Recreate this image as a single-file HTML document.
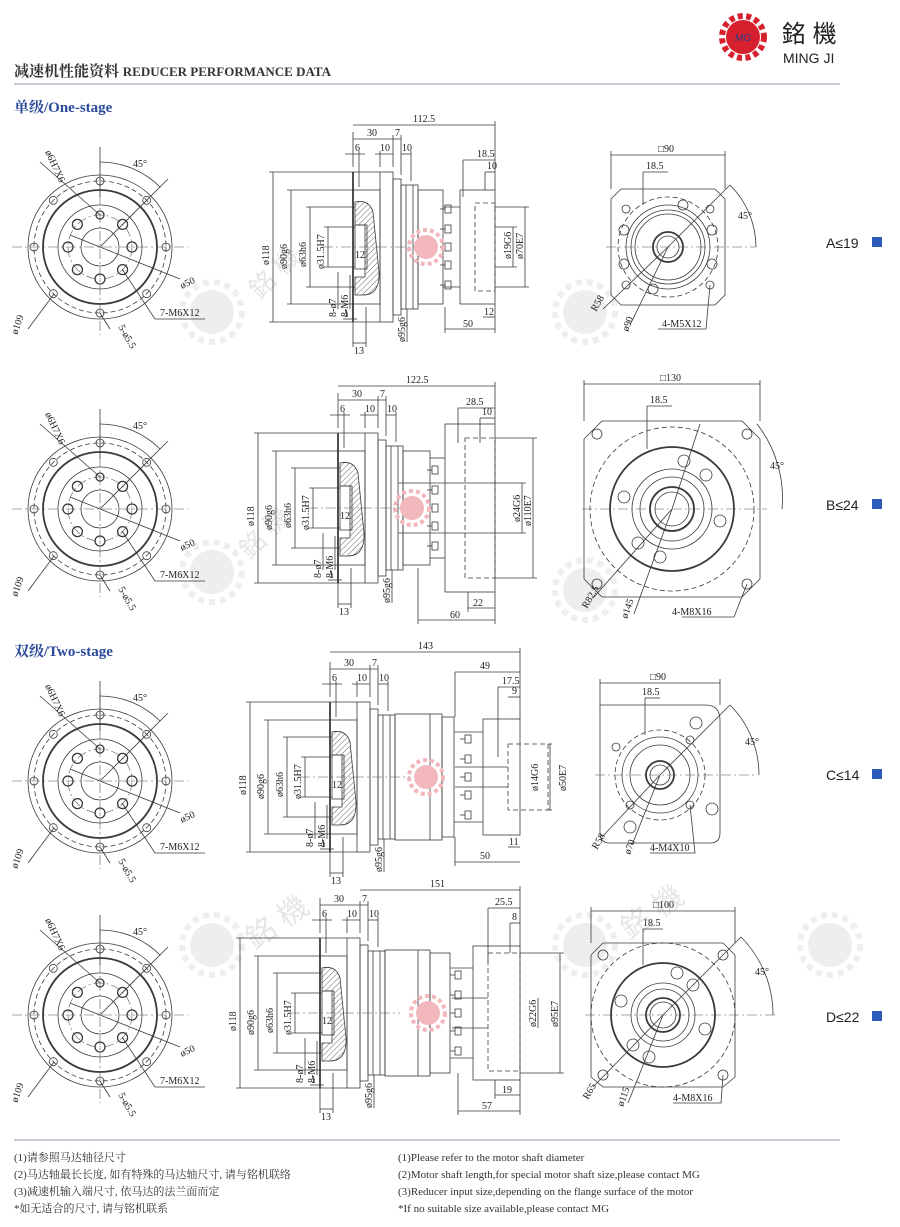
<!DOCTYPE html>
<html><head><meta charset="utf-8"><style>
html,body{margin:0;padding:0;background:#fff;}
svg{display:block;}
.l{fill:none;stroke:#3a3a3a;stroke-width:0.8;}
.t{stroke-width:1.8;}
.d{stroke-dasharray:5 3;}
.c{stroke-dasharray:10 3 2 3;stroke:#555;stroke-width:0.6;}
.tx{font-family:"Liberation Serif",serif;font-size:10px;fill:#222;}
.h{fill:url(#hatch);stroke:#3a3a3a;stroke-width:0.8;}
</style></head><body>
<svg width="900" height="1227" viewBox="0 0 900 1227" xmlns="http://www.w3.org/2000/svg">
<defs>
<pattern id="hatch" width="4" height="4" patternUnits="userSpaceOnUse" patternTransform="rotate(45)"><line x1="0" y1="0" x2="0" y2="4" stroke="#444" stroke-width="0.8"/></pattern>
<g id="front">
 <circle class="l" r="72"/><circle class="l d" r="66"/><circle class="l t" r="57"/><circle class="l" r="42"/><circle class="l c" r="32"/><circle class="l" r="19"/>
 <g class="l"><circle cx="66" cy="0" r="4"/><circle cx="46.7" cy="46.7" r="4"/><circle cx="0" cy="66" r="4"/><circle cx="-46.7" cy="46.7" r="4"/><circle cx="-66" cy="0" r="4"/><circle cx="-46.7" cy="-46.7" r="4"/><circle cx="0" cy="-66" r="4"/><circle cx="46.7" cy="-46.7" r="4"/></g>
 <g class="l t" style="stroke-width:1.3"><circle cx="32" cy="0" r="5"/><circle cx="22.6" cy="22.6" r="5"/><circle cx="0" cy="32" r="5"/><circle cx="-22.6" cy="22.6" r="5"/><circle cx="-32" cy="0" r="5"/><circle cx="-22.6" cy="-22.6" r="5"/><circle cx="0" cy="-32" r="4"/><circle cx="22.6" cy="-22.6" r="5"/></g>
 <line class="l c" x1="-88" y1="0" x2="88" y2="0"/><line class="l c" x1="0" y1="-88" x2="0" y2="88"/>
 <line class="l" x1="0" y1="-50" x2="0" y2="-100"/><path class="l" d="M0,-85 A85,85 0 0 1 60,-60"/><line class="l" x1="0" y1="0" x2="68" y2="-68"/>
 <line class="l" x1="-60" y1="-85" x2="0" y2="-32"/><line class="l" x1="-30" y1="-12" x2="80" y2="32"/>
 <polyline class="l" points="22,22 55,72 105,72"/><line class="l" x1="0" y1="66" x2="10" y2="82"/><line class="l" x1="-46" y1="47" x2="-72" y2="82"/>
</g>
<g id="sideL">
 <line class="l t" x1="0" y1="-75" x2="0" y2="75"/>
 <rect class="l" x="0" y="-57" width="27" height="114"/>
 <rect class="l" x="27" y="-75" width="13" height="150"/>
 <rect class="l" x="40" y="-68" width="8" height="136"/>
 <rect class="l" x="48" y="-62" width="17" height="124"/><line class="l" x1="53" y1="-62" x2="53" y2="62"/><line class="l" x1="60" y1="-62" x2="60" y2="62"/>
 <path class="h" d="M2,-45 Q16,-48 20,-35 L26,25 Q27,48 10,48 L2,48 L2,30 L12,30 L12,-22 L2,-22 Z"/>
 <rect class="l" x="2" y="-22" width="12" height="44"/>
 <line class="l c" x1="-30" y1="0" x2="80" y2="0"/>
 <g class="l">
  <line x1="-80" y1="-75" x2="-80" y2="75"/><line x1="-84" y1="-75" x2="27" y2="-75"/><line x1="-84" y1="75" x2="27" y2="75"/>
  <line x1="-62" y1="-57" x2="-62" y2="57"/><line x1="-66" y1="-57" x2="0" y2="-57"/><line x1="-66" y1="57" x2="0" y2="57"/>
  <line x1="-43" y1="-40" x2="-43" y2="40"/><line x1="-47" y1="-40" x2="2" y2="-40"/><line x1="-47" y1="40" x2="2" y2="40"/>
  <line x1="-25" y1="-20" x2="-25" y2="20"/><line x1="-29" y1="-20" x2="2" y2="-20"/><line x1="-29" y1="20" x2="2" y2="20"/>
  <line x1="-15" y1="25" x2="-15" y2="62"/><line x1="-3" y1="28" x2="-3" y2="62"/>
  <line x1="0" y1="-80" x2="0" y2="-115"/><line x1="40" y1="-80" x2="40" y2="-112"/><line x1="48" y1="-72" x2="48" y2="-112"/><line x1="27" y1="-80" x2="27" y2="-96"/><line x1="58" y1="-66" x2="58" y2="-96"/><line x1="6" y1="-60" x2="6" y2="-96"/>
  <line x1="0" y1="-108" x2="48" y2="-108"/><line x1="-8" y1="-93" x2="12" y2="-93"/><line x1="22" y1="-93" x2="40" y2="-93"/><line x1="48" y1="-93" x2="58" y2="-93"/>
  <line x1="0" y1="75" x2="0" y2="100"/><line x1="13" y1="60" x2="13" y2="100"/><line x1="0" y1="96" x2="13" y2="96"/>
  <line x1="-10" y1="72" x2="4" y2="72"/><line x1="54" y1="62" x2="54" y2="95"/>
 </g>
 <text class="tx" transform="translate(-84,18) rotate(-90)">ø118</text>
 <text class="tx" transform="translate(-66,22) rotate(-90)">ø90g6</text>
 <text class="tx" transform="translate(-47,20) rotate(-90)">ø63h6</text>
 <text class="tx" transform="translate(-29,22) rotate(-90)">ø31.5H7</text>
 <text class="tx" transform="translate(-17,70) rotate(-90)">8-ø7</text>
 <text class="tx" transform="translate(-5,70) rotate(-90)">8-M6</text>
 <text class="tx" transform="translate(52,95) rotate(-90)">ø95g6</text>
 <text class="tx" x="2" y="11">12</text>
 <text class="tx" x="14" y="-111">30</text><text class="tx" x="42" y="-111">7</text>
 <text class="tx" x="2" y="-96">6</text><text class="tx" x="27" y="-96">10</text><text class="tx" x="49" y="-96">10</text>
 <text class="tx" x="-9" y="70">1</text><text class="tx" x="1" y="107">13</text>
</g>
<g id="bolts" class="l">
 <rect x="-3" y="-42" width="6" height="8"/><rect x="-3" y="-22" width="6" height="8"/><rect x="-3" y="-4" width="6" height="8"/><rect x="-3" y="14" width="6" height="8"/><rect x="-3" y="34" width="6" height="8"/>
 <line x1="-8" y1="-38" x2="-3" y2="-38"/><line x1="-8" y1="-18" x2="-3" y2="-18"/><line x1="-8" y1="0" x2="-3" y2="0"/><line x1="-8" y1="18" x2="-3" y2="18"/><line x1="-8" y1="38" x2="-3" y2="38"/>
</g>
<g id="wm"><circle r="22" fill="#eee"/><circle r="30" fill="none" stroke="#eee" stroke-width="6" stroke-dasharray="6 5"/></g>
<g id="pk"><circle r="12" fill="#f3b8bd"/><circle r="17" fill="none" stroke="#f2b6bb" stroke-width="4" stroke-dasharray="4 3"/></g>
</defs>

<!-- header -->
<g transform="translate(743,37)"><circle r="17" fill="#d7202e"/><circle r="21" fill="none" stroke="#d7202e" stroke-width="6" stroke-dasharray="5 3.5"/><text x="-8" y="4" font-family="Liberation Sans,sans-serif" font-size="10" font-style="italic" fill="#2a3d8f">MG</text></g>
<text x="782" y="42" font-family="'Liberation Sans','Noto Sans CJK TC',sans-serif" font-size="24" fill="#222">銘 機</text>
<text x="783" y="63" font-family="Liberation Sans,sans-serif" font-size="14" fill="#222">MING JI</text>
<text x="14" y="76" font-family="'Liberation Serif','Noto Serif CJK SC',serif" font-size="15" font-weight="bold" fill="#333">减速机性能资料 <tspan font-size="13">REDUCER PERFORMANCE DATA</tspan></text>
<line x1="14" y1="84" x2="840" y2="84" stroke="#aab" stroke-width="1.2"/>
<text x="14" y="112" font-family="'Liberation Serif','Noto Serif CJK SC',serif" font-size="15" font-weight="bold" fill="#2a4a9a">单级/One-stage</text>
<text x="14" y="656" font-family="'Liberation Serif','Noto Serif CJK SC',serif" font-size="15" font-weight="bold" fill="#2a4a9a">双级/Two-stage</text>

<!-- watermarks -->
<use href="#wm" x="212" y="312"/><use href="#wm" x="212" y="572"/><use href="#wm" x="585" y="312"/><use href="#wm" x="585" y="590"/><use href="#wm" x="212" y="945"/><use href="#wm" x="585" y="945"/><use href="#wm" x="830" y="945"/>
<g font-family="'Liberation Sans','Noto Sans CJK TC',sans-serif" fill="#e6e6e6">
<text transform="translate(260,300) rotate(-45)" font-size="26">銘 機</text>
<text transform="translate(250,560) rotate(-45)" font-size="26">銘 機</text>
<text transform="translate(255,950) rotate(-35)" font-size="30">銘 機</text>
<text transform="translate(630,940) rotate(-35)" font-size="30">銘 機</text>
</g>

<!-- ROW 1 -->
<g transform="translate(100,247)"><use href="#front"/>
 <text class="tx" x="33" y="-80">45°</text><text class="tx" transform="translate(-55,-95) rotate(65)">ø6H7X6</text>
 <text class="tx" transform="translate(82,42) rotate(-25)">ø50</text><text class="tx" x="60" y="69">7-M6X12</text>
 <text class="tx" transform="translate(-83,88) rotate(-70)">ø109</text><text class="tx" transform="translate(18,80) rotate(60)">5-ø5.5</text></g>
<g transform="translate(353,247)"><use href="#sideL"/>
 <g class="l"><rect x="65" y="-57" width="25" height="114"/><rect x="107" y="-57" width="35" height="114"/><rect class="l d" x="122" y="-44" width="20" height="88"/>
 <line x1="90" y1="-40" x2="107" y2="-40"/><line x1="90" y1="40" x2="107" y2="40"/>
 <line x1="0" y1="-122" x2="142" y2="-122"/><line x1="142" y1="-126" x2="142" y2="-57"/>
 <line x1="110" y1="-87" x2="142" y2="-87"/><line x1="110" y1="-87" x2="110" y2="-50"/><line x1="132" y1="-75" x2="142" y2="-75"/><line x1="132" y1="-75" x2="132" y2="-57"/>
 <line x1="130" y1="70" x2="142" y2="70"/><line x1="92" y1="82" x2="142" y2="82"/><line x1="92" y1="60" x2="92" y2="86"/><line x1="142" y1="57" x2="142" y2="86"/>
 <line x1="160" y1="-20" x2="160" y2="20"/><line x1="172" y1="-40" x2="172" y2="40"/><line x1="142" y1="-40" x2="176" y2="-40"/><line x1="142" y1="40" x2="176" y2="40"/><line x1="142" y1="-20" x2="164" y2="-20"/><line x1="142" y1="20" x2="164" y2="20"/></g>
 <use href="#bolts" x="95" y="0"/><use href="#pk" x="73" y="0"/>
 <text class="tx" x="60" y="-125">112.5</text><text class="tx" x="124" y="-90">18.5</text><text class="tx" x="134" y="-78">10</text><text class="tx" x="131" y="68">12</text><text class="tx" x="110" y="80">50</text>
 <text class="tx" transform="translate(158,12) rotate(-90)">ø19G6</text><text class="tx" transform="translate(170,12) rotate(-90)">ø70E7</text></g>
<g transform="translate(668,247)" class="l">
 <polygon points="-47,-58 47,-58 57,-48 57,48 47,58 -47,58 -57,48 -57,-48"/><circle r="50" class="l d"/><circle r="42"/><circle r="37"/><circle r="33"/><circle r="15" class="t"/><circle r="11"/>
 <circle cx="-42" cy="-38" r="4"/><circle cx="42" cy="-38" r="4"/><circle cx="-42" cy="38" r="4"/><circle cx="42" cy="38" r="4"/>
 <circle cx="-44" cy="-17" r="5"/><circle cx="44" cy="-17" r="5"/><circle cx="-44" cy="17" r="5"/><circle cx="44" cy="17" r="5"/><circle cx="15" cy="-42" r="5"/><circle cx="-15" cy="42" r="5"/>
 <line x1="-62" y1="0" x2="88" y2="0" class="c"/><line x1="-57" y1="-92" x2="57" y2="-92"/><line x1="-57" y1="-96" x2="-57" y2="-58"/><line x1="57" y1="-96" x2="57" y2="-58"/>
 <line x1="-25" y1="-75" x2="0" y2="-75"/><line x1="-25" y1="-75" x2="-25" y2="-42"/><path d="M62,-62 A88,88 0 0 1 88,0"/><line x1="0" y1="0" x2="62" y2="-62"/>
 <line x1="0" y1="0" x2="-65" y2="62"/><line x1="0" y1="0" x2="-38" y2="78"/><polyline points="42,38 38,82 -10,82"/>
</g>
<g transform="translate(668,247)"><text class="tx" x="-10" y="-95">□90</text><text class="tx" x="-22" y="-78">18.5</text><text class="tx" x="70" y="-28">45°</text>
 <text class="tx" transform="translate(-72,65) rotate(-60)">R58</text><text class="tx" transform="translate(-40,85) rotate(-70)">ø90</text><text class="tx" x="-6" y="80">4-M5X12</text></g>

<!-- ROW 2 -->
<g transform="translate(100,509)"><use href="#front"/>
 <text class="tx" x="33" y="-80">45°</text><text class="tx" transform="translate(-55,-95) rotate(65)">ø6H7X6</text>
 <text class="tx" transform="translate(82,42) rotate(-25)">ø50</text><text class="tx" x="60" y="69">7-M6X12</text>
 <text class="tx" transform="translate(-83,88) rotate(-70)">ø109</text><text class="tx" transform="translate(18,80) rotate(60)">5-ø5.5</text></g>
<g transform="translate(338,508)"><use href="#sideL"/>
 <g class="l"><rect x="65" y="-57" width="27" height="114"/><rect x="107" y="-84" width="50" height="168"/><rect class="l d" x="127" y="-70" width="30" height="140"/>
 <line x1="92" y1="-50" x2="107" y2="-50"/><line x1="92" y1="50" x2="107" y2="50"/>
 <line x1="0" y1="-122" x2="157" y2="-122"/><line x1="157" y1="-126" x2="157" y2="-84"/>
 <line x1="120" y1="-100" x2="157" y2="-100"/><line x1="120" y1="-100" x2="120" y2="-65"/><line x1="142" y1="-90" x2="157" y2="-90"/><line x1="142" y1="-90" x2="142" y2="-65"/>
 <line x1="130" y1="100" x2="157" y2="100"/><line x1="130" y1="84" x2="130" y2="104"/><line x1="80" y1="112" x2="157" y2="112"/><line x1="80" y1="60" x2="80" y2="116"/><line x1="157" y1="84" x2="157" y2="116"/>
 <line x1="184" y1="-25" x2="184" y2="25"/><line x1="195" y1="-70" x2="195" y2="70"/><line x1="157" y1="-70" x2="199" y2="-70"/><line x1="157" y1="70" x2="199" y2="70"/><line x1="60" y1="-25" x2="188" y2="-25"/><line x1="60" y1="25" x2="188" y2="25"/></g>
 <use href="#bolts" x="97" y="0" transform="translate(0,0) scale(1)"/><use href="#pk" x="74" y="0"/>
 <text class="tx" x="68" y="-125">122.5</text><text class="tx" x="128" y="-103">28.5</text><text class="tx" x="144" y="-93">10</text><text class="tx" x="135" y="98">22</text><text class="tx" x="112" y="110">60</text>
 <text class="tx" transform="translate(182,14) rotate(-90)">ø24G6</text><text class="tx" transform="translate(193,18) rotate(-90)">ø110E7</text></g>
<g transform="translate(672,509)" class="l">
 <polygon points="-70,-88 70,-88 88,-70 88,70 70,88 -70,88 -88,70 -88,-70"/><circle r="82" class="l d"/><circle r="62" class="t"/><circle r="40"/><circle r="32"/><circle r="22" class="t"/><circle r="17"/>
 <circle cx="-75" cy="-75" r="5"/><circle cx="75" cy="-75" r="5"/><circle cx="-75" cy="75" r="5"/><circle cx="75" cy="75" r="5"/>
 <circle cx="-48" cy="-12" r="6"/><circle cx="48" cy="12" r="6"/><circle cx="12" cy="-48" r="6"/><circle cx="-12" cy="48" r="6"/><circle cx="-34" cy="34" r="6"/><circle cx="34" cy="-34" r="6"/>
 <line x1="-90" y1="0" x2="95" y2="0" class="c"/><line x1="-88" y1="-125" x2="88" y2="-125"/><line x1="-88" y1="-129" x2="-88" y2="-88"/><line x1="88" y1="-129" x2="88" y2="-88"/>
 <line x1="-25" y1="-103" x2="0" y2="-103"/><line x1="-25" y1="-103" x2="-25" y2="-60"/><line x1="0" y1="0" x2="-78" y2="88"/><line x1="0" y1="0" x2="-38" y2="105"/><line x1="0" y1="0" x2="28" y2="-85"/>
 <polyline points="75,75 62,108 10,108"/><path d="M85,-85 A120,120 0 0 1 110,0" />
</g>
<g transform="translate(672,509)"><text class="tx" x="-12" y="-128">□130</text><text class="tx" x="-22" y="-106">18.5</text><text class="tx" x="98" y="-40">45°</text>
 <text class="tx" transform="translate(-85,100) rotate(-60)">R82.5</text><text class="tx" transform="translate(-45,110) rotate(-70)">ø145</text><text class="tx" x="0" y="106">4-M8X16</text></g>

<!-- ROW 3 -->
<g transform="translate(100,781)"><use href="#front"/>
 <text class="tx" x="33" y="-80">45°</text><text class="tx" transform="translate(-55,-95) rotate(65)">ø6H7X6</text>
 <text class="tx" transform="translate(82,42) rotate(-25)">ø50</text><text class="tx" x="60" y="69">7-M6X12</text>
 <text class="tx" transform="translate(-83,88) rotate(-70)">ø109</text><text class="tx" transform="translate(18,80) rotate(60)">5-ø5.5</text></g>
<g transform="translate(330,777)"><use href="#sideL"/>
 <g class="l"><rect x="65" y="-63" width="47" height="126"/><line x1="100" y1="-63" x2="100" y2="63"/><rect x="112" y="-60" width="12" height="120"/><rect x="153" y="-58" width="37" height="116"/><rect class="l d" x="178" y="-33" width="40" height="66"/>
 <line x1="124" y1="-45" x2="153" y2="-45"/><line x1="124" y1="45" x2="153" y2="45"/><line x1="125" y1="-10" x2="178" y2="-10"/><line x1="125" y1="10" x2="178" y2="10"/>
 <line x1="0" y1="-125" x2="190" y2="-125"/><line x1="190" y1="-129" x2="190" y2="-58"/>
 <line x1="125" y1="-105" x2="190" y2="-105"/><line x1="125" y1="-105" x2="125" y2="-60"/><line x1="168" y1="-90" x2="190" y2="-90"/><line x1="168" y1="-90" x2="168" y2="-20"/><line x1="178" y1="-80" x2="190" y2="-80"/>
 <line x1="178" y1="70" x2="190" y2="70"/><line x1="125" y1="85" x2="190" y2="85"/><line x1="125" y1="60" x2="125" y2="89"/>
 <line x1="218" y1="-33" x2="222" y2="-33"/><line x1="218" y1="33" x2="222" y2="33"/><line x1="220" y1="-33" x2="220" y2="33"/></g>
 <use href="#bolts" x="138" y="0"/><use href="#pk" x="96" y="0"/>
 <text class="tx" x="88" y="-128">143</text><text class="tx" x="150" y="-108">49</text><text class="tx" x="172" y="-93">17.5</text><text class="tx" x="182" y="-83">9</text><text class="tx" x="179" y="68">11</text><text class="tx" x="150" y="82">50</text>
 <text class="tx" transform="translate(208,14) rotate(-90)">ø14G6</text><text class="tx" transform="translate(236,14) rotate(-90)">ø50E7</text></g>
<g transform="translate(660,775)" class="l">
 <path d="M-60,-70 L45,-70 Q60,-70 60,-55 L60,58 Q60,68 50,68 L-50,68 Q-60,68 -60,58 Z"/><circle r="45" class="l d"/><circle r="38"/><circle r="30"/><circle r="14" class="t"/><circle r="10"/>
 <circle cx="36" cy="-52" r="6"/><circle cx="52" cy="34" r="6"/><circle cx="-30" cy="52" r="6"/><circle cx="-44" cy="-28" r="4"/><circle cx="30" cy="-35" r="4"/><circle cx="-30" cy="30" r="4"/><circle cx="30" cy="30" r="4"/>
 <line x1="-65" y1="0" x2="95" y2="0" class="c"/><line x1="-60" y1="-92" x2="60" y2="-92"/><line x1="-60" y1="-96" x2="-60" y2="-70"/><line x1="60" y1="-96" x2="60" y2="-70"/>
 <line x1="-15" y1="-77" x2="0" y2="-77"/><line x1="-15" y1="-77" x2="-15" y2="-40"/><line x1="0" y1="0" x2="70" y2="-70"/><path d="M70,-70 A99,99 0 0 1 99,0"/>
 <line x1="0" y1="0" x2="-58" y2="62"/><line x1="0" y1="0" x2="-28" y2="70"/><polyline points="30,30 35,78 -10,78"/>
</g>
<g transform="translate(660,775)"><text class="tx" x="-10" y="-95">□90</text><text class="tx" x="-18" y="-80">18.5</text><text class="tx" x="85" y="-30">45°</text>
 <text class="tx" transform="translate(-63,75) rotate(-60)">R58</text><text class="tx" transform="translate(-30,80) rotate(-70)">ø70</text><text class="tx" x="-10" y="76">4-M4X10</text></g>

<!-- ROW 4 -->
<g transform="translate(100,1015)"><use href="#front"/>
 <text class="tx" x="33" y="-80">45°</text><text class="tx" transform="translate(-55,-95) rotate(65)">ø6H7X6</text>
 <text class="tx" transform="translate(82,42) rotate(-25)">ø50</text><text class="tx" x="60" y="69">7-M6X12</text>
 <text class="tx" transform="translate(-83,88) rotate(-70)">ø109</text><text class="tx" transform="translate(18,80) rotate(60)">5-ø5.5</text></g>
<g transform="translate(320,1013)"><use href="#sideL"/>
 <g class="l"><rect x="65" y="-63" width="45" height="126"/><line x1="98" y1="-63" x2="98" y2="63"/><rect x="110" y="-60" width="20" height="120"/><rect x="153" y="-67" width="47" height="134"/><rect class="l d" x="168" y="-60" width="32" height="118"/>
 <line x1="130" y1="-45" x2="153" y2="-45"/><line x1="130" y1="45" x2="153" y2="45"/><line x1="132" y1="-15" x2="168" y2="-15"/><line x1="132" y1="15" x2="168" y2="15"/>
 <line x1="40" y1="-123" x2="200" y2="-123"/><line x1="200" y1="-127" x2="200" y2="-67"/>
 <line x1="168" y1="-105" x2="200" y2="-105"/><line x1="168" y1="-105" x2="168" y2="-50"/><line x1="190" y1="-90" x2="200" y2="-90"/><line x1="190" y1="-90" x2="190" y2="-60"/>
 <line x1="175" y1="82" x2="200" y2="82"/><line x1="175" y1="67" x2="175" y2="86"/><line x1="138" y1="98" x2="200" y2="98"/><line x1="138" y1="60" x2="138" y2="102"/><line x1="200" y1="67" x2="200" y2="102"/>
 <line x1="218" y1="-15" x2="218" y2="15"/><line x1="240" y1="-60" x2="240" y2="60"/><line x1="200" y1="-60" x2="244" y2="-60"/><line x1="200" y1="60" x2="244" y2="60"/></g>
 <use href="#bolts" x="138" y="0"/><use href="#pk" x="108" y="0"/>
 <text class="tx" x="110" y="-126">151</text><text class="tx" x="175" y="-108">25.5</text><text class="tx" x="192" y="-93">8</text><text class="tx" x="182" y="80">19</text><text class="tx" x="162" y="96">57</text>
 <text class="tx" transform="translate(216,14) rotate(-90)">ø22G6</text><text class="tx" transform="translate(238,14) rotate(-90)">ø95E7</text></g>
<g transform="translate(663,1015)" class="l">
 <polygon points="-60,-72 60,-72 72,-60 72,62 60,72 -60,72 -72,62 -72,-60"/><circle r="72" class="l d"/><circle r="52" class="t"/><circle r="32"/><circle r="26"/><circle r="17" class="t"/><circle r="13"/>
 <circle cx="-60" cy="-60" r="5"/><circle cx="60" cy="-60" r="5"/><circle cx="-60" cy="60" r="5"/><circle cx="60" cy="60" r="5"/>
 <circle cx="-42" cy="-14" r="6"/><circle cx="42" cy="14" r="6"/><circle cx="14" cy="-42" r="6"/><circle cx="-14" cy="42" r="6"/><circle cx="-30" cy="30" r="6"/><circle cx="30" cy="-30" r="6"/>
 <line x1="-78" y1="0" x2="112" y2="0" class="c"/><line x1="-72" y1="-104" x2="72" y2="-104"/><line x1="-72" y1="-108" x2="-72" y2="-72"/><line x1="72" y1="-108" x2="72" y2="-72"/>
 <line x1="-20" y1="-86" x2="0" y2="-86"/><line x1="-20" y1="-86" x2="-20" y2="-50"/><line x1="0" y1="0" x2="78" y2="-78"/><path d="M78,-78 A110,110 0 0 1 110,0"/>
 <line x1="0" y1="0" x2="-70" y2="72"/><line x1="0" y1="0" x2="-35" y2="88"/><polyline points="60,60 58,88 10,88"/>
</g>
<g transform="translate(663,1015)"><text class="tx" x="-10" y="-107">□100</text><text class="tx" x="-20" y="-89">18.5</text><text class="tx" x="92" y="-40">45°</text>
 <text class="tx" transform="translate(-75,85) rotate(-60)">R65</text><text class="tx" transform="translate(-40,92) rotate(-70)">ø115</text><text class="tx" x="10" y="86">4-M8X16</text></g>

<!-- ratio labels -->
<g font-family="Liberation Sans,sans-serif" font-size="14" fill="#222">
<text x="826" y="248">A≤19</text><text x="826" y="510">B≤24</text><text x="826" y="780">C≤14</text><text x="826" y="1022">D≤22</text></g>
<g fill="#2a5cb8"><rect x="872" y="237" width="10" height="10"/><rect x="872" y="499" width="10" height="10"/><rect x="872" y="769" width="10" height="10"/><rect x="872" y="1011" width="10" height="10"/></g>

<!-- footer -->
<line x1="14" y1="1140" x2="840" y2="1140" stroke="#aab" stroke-width="1.2"/>
<g font-family="'Liberation Serif','Noto Serif CJK SC',serif" font-size="11" fill="#333">
<text x="14" y="1161">(1)请参照马达轴径尺寸</text><text x="14" y="1178">(2)马达轴最长长度, 如有特殊的马达轴尺寸, 请与铭机联络</text>
<text x="14" y="1195">(3)减速机输入端尺寸, 依马达的法兰面而定</text><text x="14" y="1212">*如无适合的尺寸, 请与铭机联系</text>
<text x="398" y="1161">(1)Please refer to the motor shaft diameter</text><text x="398" y="1178">(2)Motor shaft length,for special motor shaft size,please contact MG</text>
<text x="398" y="1195">(3)Reducer input size,depending on the flange surface of the motor</text><text x="398" y="1212">*If no suitable size available,please contact MG</text>
</g>
</svg>
</body></html>
